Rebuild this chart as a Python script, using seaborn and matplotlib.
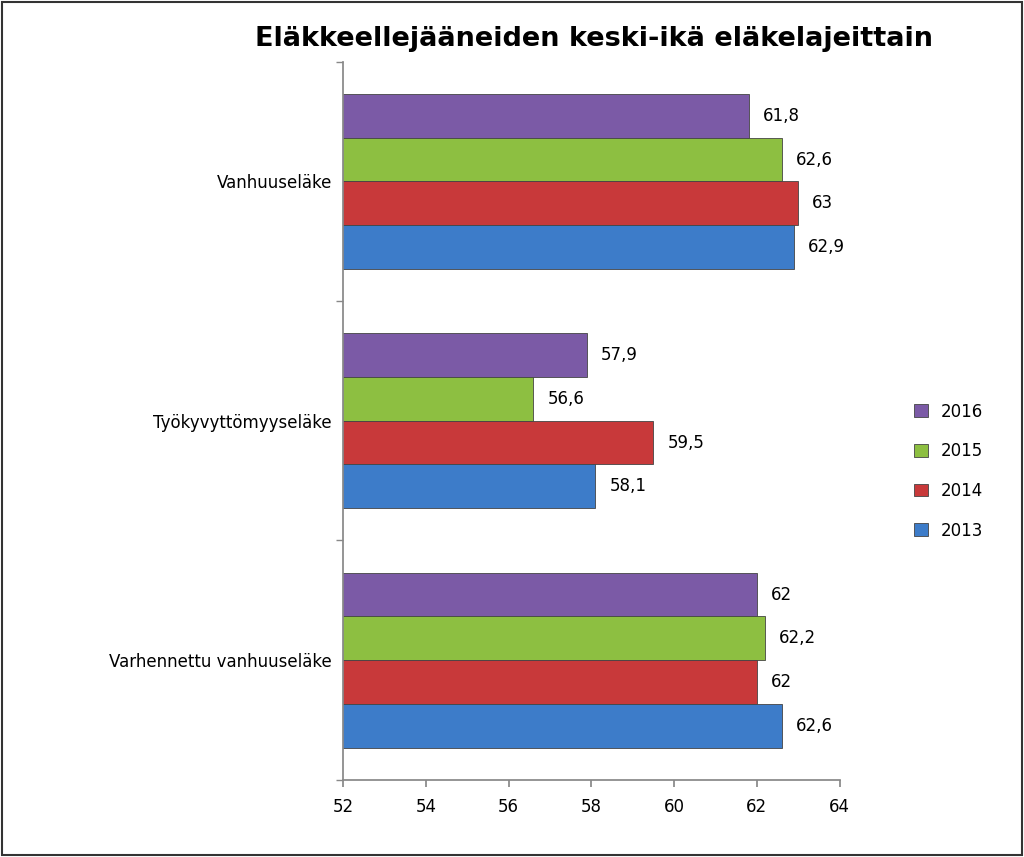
import matplotlib.pyplot as plt
from matplotlib.patches import Rectangle
import seaborn as sns
import pandas as pd

sns.set_theme(style="white", rc={'text.color': 'black', 'xtick.color': 'black',
                                 'ytick.color': 'black'})

categories = ['Vanhuuseläke', 'Työkyvyttömyyseläke', 'Varhennettu vanhuuseläke']
years = ['2016', '2015', '2014', '2013']
values = {
    '2016': [61.8, 57.9, 62.0],
    '2015': [62.6, 56.6, 62.2],
    '2014': [63.0, 59.5, 62.0],
    '2013': [62.9, 58.1, 62.6],
}
colors = ['#7B5AA6', '#8DBF41', '#C8393A', '#3D7CC9']

rows = []
for y in years:
    for c, v in zip(categories, values[y]):
        rows.append({'cat': c, 'year': y, 'val': v})
df = pd.DataFrame(rows)

fig = plt.figure(figsize=(10.24, 8.57), dpi=100)
ax = fig.add_axes([0.335, 0.09, 0.485, 0.838])
sns.barplot(data=df, y='cat', x='val', hue='year', hue_order=years,
            order=categories, palette=colors, orient='h', width=0.73,
            saturation=1, edgecolor='#444444', linewidth=0.6, ax=ax, legend=True)

ax.set_xlim(52, 64)
ax.set_xticks(range(52, 65, 2))
ax.set_xlabel('')
ax.set_ylabel('')
for c in ax.containers:
    ax.bar_label(c, labels=[f'{v:g}'.replace('.', ',') for v in c.datavalues],
                 padding=10, fontsize=12)
ax.tick_params(axis='both', labelsize=12, length=0, pad=8)
ax.set_yticks([-0.5, 0.5, 1.5, 2.5], minor=True)
ax.tick_params(axis='y', which='minor', length=5, left=True, color='#888888')
ax.tick_params(axis='x', length=5, bottom=True, color='#888888')
ax.set_ylim(2.5, -0.5)
for s in ['top', 'right']:
    ax.spines[s].set_visible(False)
for s in ['left', 'bottom']:
    ax.spines[s].set_color('#888888')

ax.legend(loc='center left', bbox_to_anchor=(1.12, 0.43), frameon=False,
          fontsize=12, handlelength=0.8, handleheight=0.8, labelspacing=1.3)

fig.text(0.58, 0.955, 'Eläkkeellejääneiden keski-ikä eläkelajeittain',
         ha='center', va='center', fontsize=19.5, fontweight='bold', color='black')
fig.patches.append(Rectangle((0.002, 0.002), 0.996, 0.996, transform=fig.transFigure,
                             fill=False, edgecolor='#333333', linewidth=1.5))
fig.savefig('out.png')
plt.close(fig)
